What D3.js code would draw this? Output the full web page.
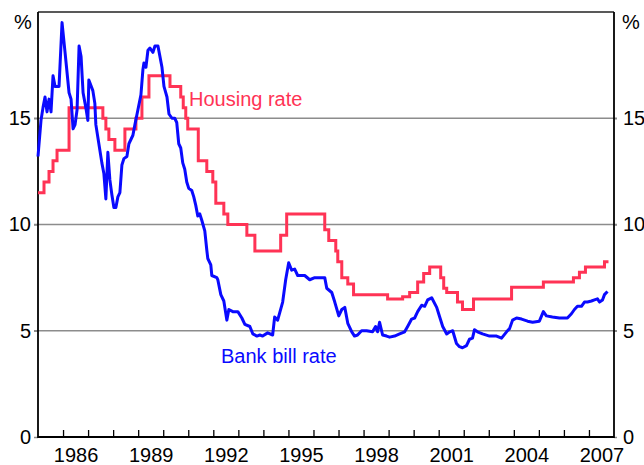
<!DOCTYPE html>
<html>
<head>
<meta charset="utf-8">
<script src="https://cdn.jsdelivr.net/npm/d3@7"></script>
<style>
  html, body { margin: 0; padding: 0; background: #fff; }
  svg { display: block; font-family: "Liberation Sans", Arial, sans-serif; }
</style>
</head>
<body>
<svg id="chart" width="644" height="465"></svg>
<script>
// ---------------- DATA ----------------
const housingYears = [1985.00, 1985.24, 1985.44, 1985.60, 1985.76, 1986.24, 1987.59, 1987.71, 1987.83, 1988.07,
  1988.47, 1988.91, 1989.15, 1989.43, 1990.27, 1990.70, 1990.80, 1990.90, 1990.98, 1991.40,
  1991.74, 1991.98, 1992.10, 1992.42, 1992.58, 1993.34, 1993.66, 1994.69, 1994.93, 1996.45,
  1996.61, 1996.89, 1996.97, 1997.13, 1997.37, 1997.60, 1998.96, 1999.56, 1999.84, 2000.16,
  2000.40, 2000.64, 2001.08, 2001.20, 2001.32, 2001.75, 2001.95, 2002.39, 2003.91, 2005.18,
  2006.38, 2006.62, 2006.86, 2007.62, 2007.78];
const housingRates = [11.5, 12.0, 12.5, 13.0, 13.5, 15.5, 15.0, 14.5, 14.0, 13.5,
  14.5, 15.0, 16.0, 17.0, 16.5, 16.0, 15.5, 15.0, 14.5, 13.0,
  12.5, 12.0, 11.0, 10.5, 10.0, 9.5, 8.75, 9.5, 10.5, 9.75,
  9.25, 8.75, 8.25, 7.5, 7.2, 6.7, 6.5, 6.6, 6.8, 7.3,
  7.7, 8.0, 7.5, 7.0, 6.8, 6.35, 6.0, 6.5, 7.05, 7.3,
  7.5, 7.75, 8.0, 8.25, 8.25];

const bankYears = [1985.00, 1985.12, 1985.20, 1985.28, 1985.36, 1985.44, 1985.52, 1985.60, 1985.68, 1985.84,
  1985.96, 1986.08, 1986.24, 1986.32, 1986.40, 1986.48, 1986.56, 1986.64, 1986.72, 1986.80,
  1986.91, 1986.99, 1987.03, 1987.19, 1987.27, 1987.31, 1987.43, 1987.55, 1987.63, 1987.71,
  1987.79, 1987.87, 1987.95, 1988.03, 1988.11, 1988.19, 1988.27, 1988.35, 1988.43, 1988.55,
  1988.63, 1988.79, 1988.87, 1988.99, 1989.11, 1989.19, 1989.23, 1989.31, 1989.39, 1989.47,
  1989.59, 1989.67, 1989.79, 1989.87, 1989.95, 1990.03, 1990.15, 1990.23, 1990.35, 1990.46,
  1990.54, 1990.62, 1990.70, 1990.78, 1990.86, 1990.94, 1991.02, 1991.14, 1991.22, 1991.30,
  1991.38, 1991.46, 1991.54, 1991.66, 1991.74, 1991.78, 1991.90, 1991.94, 1992.14, 1992.18,
  1992.30, 1992.42, 1992.54, 1992.62, 1992.78, 1992.98, 1993.14, 1993.26, 1993.46, 1993.58,
  1993.74, 1993.86, 1993.97, 1994.17, 1994.37, 1994.45, 1994.57, 1994.77, 1994.89, 1995.01,
  1995.13, 1995.25, 1995.37, 1995.65, 1995.85, 1996.05, 1996.25, 1996.45, 1996.53, 1996.73,
  1996.85, 1997.01, 1997.13, 1997.25, 1997.37, 1997.53, 1997.64, 1997.76, 1997.92, 1998.12,
  1998.36, 1998.48, 1998.56, 1998.64, 1998.76, 1998.92, 1999.04, 1999.24, 1999.44, 1999.64,
  1999.76, 1999.92, 2000.04, 2000.16, 2000.32, 2000.44, 2000.56, 2000.72, 2000.92, 2001.04,
  2001.16, 2001.32, 2001.44, 2001.56, 2001.71, 2001.83, 2001.95, 2002.11, 2002.23, 2002.35,
  2002.43, 2002.55, 2002.75, 2003.03, 2003.31, 2003.51, 2003.71, 2003.83, 2003.95, 2004.11,
  2004.31, 2004.55, 2004.75, 2005.02, 2005.18, 2005.30, 2005.54, 2005.82, 2006.14, 2006.30,
  2006.42, 2006.54, 2006.70, 2006.82, 2006.94, 2007.10, 2007.22, 2007.34, 2007.42, 2007.54,
  2007.62, 2007.74];
const bankRates = [13.2, 14.9, 15.5, 16.0, 15.3, 15.9, 15.3, 17.0, 16.5, 16.5,
  19.5, 18.1, 16.2, 15.9, 14.5, 14.7, 15.4, 18.4, 17.9, 16.2,
  15.5, 14.9, 16.8, 16.3, 15.7, 14.7, 13.8, 12.9, 12.4, 11.2,
  13.4, 12.1, 11.4, 10.8, 10.8, 11.3, 11.5, 12.8, 13.1, 13.2,
  13.8, 14.2, 14.7, 15.4, 16.1, 17.3, 17.6, 17.4, 18.2, 18.3,
  18.1, 18.4, 18.4, 17.9, 17.4, 16.5, 16.0, 15.2, 15.0, 15.0,
  14.8, 13.8, 13.6, 12.9, 12.6, 12.0, 11.7, 11.6, 11.3, 10.9,
  10.4, 10.5, 10.2, 9.7, 8.8, 8.4, 8.1, 7.6, 7.5, 7.4,
  6.7, 6.4, 5.5, 6.0, 5.9, 5.9, 5.6, 5.3, 5.2, 4.85,
  4.75, 4.8, 4.75, 4.9, 4.8, 5.65, 5.5, 6.35, 7.4, 8.2,
  7.85, 7.9, 7.6, 7.6, 7.4, 7.5, 7.5, 7.5, 7.0, 6.8,
  6.35, 5.7, 6.0, 6.1, 5.35, 4.95, 4.75, 4.8, 5.0, 5.0,
  4.95, 5.2, 4.95, 5.4, 4.8, 4.75, 4.7, 4.75, 4.85, 4.95,
  5.2, 5.55, 5.6, 5.9, 6.2, 6.15, 6.45, 6.55, 6.1, 5.65,
  5.2, 4.85, 4.95, 5.0, 4.4, 4.25, 4.2, 4.3, 4.6, 4.65,
  5.05, 4.95, 4.85, 4.75, 4.75, 4.65, 4.95, 5.1, 5.5, 5.6,
  5.55, 5.45, 5.4, 5.45, 5.9, 5.7, 5.65, 5.6, 5.6, 5.8,
  6.0, 6.15, 6.15, 6.35, 6.35, 6.4, 6.45, 6.5, 6.35, 6.45,
  6.7, 6.85];

const yTickValues = [0, 5, 10, 15];
const gridValues = [5, 10, 15];
const yearTickValues = [1986, 1987, 1988, 1989, 1990, 1991, 1992, 1993, 1994, 1995, 1996,
  1997, 1998, 1999, 2000, 2001, 2002, 2003, 2004, 2005, 2006, 2007];
const xLabelYears = [1986, 1989, 1992, 1995, 1998, 2001, 2004, 2007];
const unitLabel = "%";
const seriesLabels = ["Housing rate", "Bank bill rate"];

// ---------------- CHART ----------------
(function () {
const svg = d3.select("#chart");
const L = 38, R = 614, T = 12, B = 437;
const x = d3.scaleLinear().domain([1985, 2008]).range([L, R]);
const y = d3.scaleLinear().domain([0, 20]).range([B, T]);

const RED = "#ff3355", BLUE = "#0a0aff";
const FONT = 20;
const FF = "Liberation Sans, Arial, sans-serif";

// gridlines
svg.append("g").selectAll("line").data(gridValues).join("line")
  .attr("x1", L - 4).attr("x2", R + 3)
  .attr("y1", d => y(d)).attr("y2", d => y(d))
  .attr("stroke", "#8c8c8c").attr("stroke-width", 1.5);

// left axis labels
const yl = svg.append("g").attr("transform", `translate(${L},0)`)
  .call(d3.axisLeft(y).tickValues(yTickValues).tickSize(4).tickPadding(3).tickFormat(d3.format("d")));
yl.select(".domain").remove();
yl.selectAll("line").attr("stroke", "#8c8c8c").attr("stroke-width", 1.5);
yl.selectAll("text").attr("font-size", FONT).attr("font-family", FF).attr("fill", "#000");

// right axis labels
const yr = svg.append("g").attr("transform", `translate(${R},0)`)
  .call(d3.axisRight(y).tickValues(yTickValues).tickSize(3).tickPadding(6).tickFormat(d3.format("d")));
yr.select(".domain").remove();
yr.selectAll("line").attr("stroke", "#8c8c8c").attr("stroke-width", 1.5);
yr.selectAll("text").attr("font-size", FONT).attr("font-family", FF).attr("fill", "#000");

// year tick marks (inward)
const xt = svg.append("g").attr("transform", `translate(0,${B})`)
  .call(d3.axisBottom(x).tickValues(yearTickValues).tickSize(-7).tickFormat(""));
xt.select(".domain").remove();
xt.selectAll("line").attr("stroke", "#000").attr("stroke-width", 1.3);

// year labels (centred in year)
const xlab = svg.append("g").attr("transform", `translate(0,${B})`)
  .call(d3.axisBottom(x).tickValues(xLabelYears.map(v => v + 0.5)).tickSize(0).tickPadding(11)
    .tickFormat(d => String(Math.floor(d))));
xlab.select(".domain").remove();
xlab.selectAll("text").attr("font-size", FONT).attr("font-family", FF).attr("fill", "#000");

// frame
svg.append("line").attr("x1", L).attr("x2", R).attr("y1", T).attr("y2", T)
  .attr("stroke", "#222").attr("stroke-width", 1.3);
svg.append("line").attr("x1", L).attr("x2", L).attr("y1", T).attr("y2", B + 1)
  .attr("stroke", "#000").attr("stroke-width", 1.8);
svg.append("line").attr("x1", R).attr("x2", R).attr("y1", T).attr("y2", B + 1)
  .attr("stroke", "#000").attr("stroke-width", 1.8);
svg.append("line").attr("x1", L).attr("x2", R).attr("y1", B).attr("y2", B)
  .attr("stroke", "#000").attr("stroke-width", 2);

// % labels
svg.append("text").attr("x", 14).attr("y", 29).attr("font-size", FONT).attr("font-family", FF).text(unitLabel);
svg.append("text").attr("x", 622).attr("y", 29).attr("font-size", FONT).attr("font-family", FF).text(unitLabel);

// series
const housing = housingYears.map((d, i) => [d, housingRates[i]]);
const bank = bankYears.map((d, i) => [d, bankRates[i]]);

svg.append("path").datum(housing)
  .attr("d", d3.line().x(d => x(d[0])).y(d => y(d[1])).curve(d3.curveStepAfter))
  .attr("fill", "none").attr("stroke", RED).attr("stroke-width", 3);

svg.append("path").datum(bank)
  .attr("d", d3.line().x(d => x(d[0])).y(d => y(d[1])))
  .attr("fill", "none").attr("stroke", BLUE).attr("stroke-width", 3).attr("stroke-linejoin", "round");

// series labels
svg.append("text").attr("x", 189).attr("y", 106).attr("font-size", FONT).attr("font-family", FF).attr("fill", RED).text(seriesLabels[0]);
svg.append("text").attr("x", 221).attr("y", 363).attr("font-size", FONT).attr("font-family", FF).attr("fill", BLUE).text(seriesLabels[1]);
})();
</script>
</body>
</html>
